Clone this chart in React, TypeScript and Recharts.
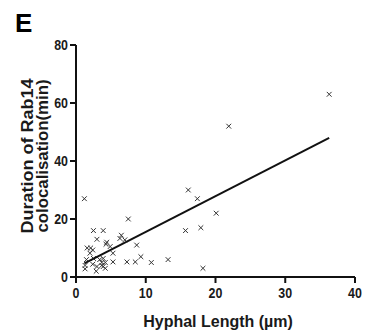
import {
  ScatterChart,
  Scatter,
  XAxis,
  YAxis,
  Label,
} from "recharts";

// Hyphal length (µm) vs duration of Rab14 colocalisation (min)
const hyphalLength = [
  1.2, 7.5, 2.5, 3.9, 15.7, 3.0, 6.5, 6.3, 7.0, 4.4, 4.3, 4.9, 8.7, 1.6, 2.1,
  2.4, 2.0, 5.3, 9.3, 1.5, 2.5, 3.4, 3.9, 5.3, 7.3, 8.5, 10.8, 13.2, 1.3, 1.3,
  2.4, 3.0, 2.9, 3.7, 3.9, 4.2, 3.7, 4.2, 16.1, 17.4, 20.1, 17.9, 18.2, 21.9,
  36.3,
];
const duration = [
  27, 20, 16, 16, 16, 13, 14.4, 13.3, 12.8, 12, 11.3, 10.5, 11, 10, 10, 9.3,
  8.2, 8.2, 7, 6, 6.4, 6, 6.4, 5.2, 5.2, 5.2, 5, 6, 4, 2.8, 4.4, 3.6, 2, 4,
  3.6, 3, 5, 5, 30, 27, 22, 17, 3, 52, 63,
];

// regression line end points
const fitX = [1.2, 36.3];
const fitY = [4.7, 48];

const xTicks = [0, 10, 20, 30, 40];
const yTicks = [0, 20, 40, 60, 80];

const points = hyphalLength.map((x, i) => ({ x, y: duration[i] }));
const fitLine = fitX.map((x, i) => ({ x, y: fitY[i] }));

const FONT = "'Liberation Sans', Arial, sans-serif";
const INK = "#1a1a1a";

const Cross = (props: any) => {
  const { cx, cy } = props;
  const r = 2.4;
  return (
    <g stroke="#333" strokeWidth={1}>
      <line x1={cx - r} y1={cy - r} x2={cx + r} y2={cy + r} />
      <line x1={cx - r} y1={cy + r} x2={cx + r} y2={cy - r} />
    </g>
  );
};

// narrow bold digits like the original figure
const tickText = (label: string, x: number, y: number, anchor: string) => (
  <text
    x={x}
    y={y}
    textAnchor={anchor}
    fontFamily={FONT}
    fontWeight="bold"
    fontSize={15}
    fill={INK}
    textLength={label.length * 6.9}
    lengthAdjust="spacingAndGlyphs"
  >
    {label}
  </text>
);

const XTick = (props: any) => {
  const { x, y, payload } = props;
  return tickText(String(payload.value), x, y + 13, "middle");
};

const YTick = (props: any) => {
  const { x, y, payload } = props;
  return tickText(String(payload.value), x, y + 5, "end");
};

const YLabel = () => (
  <g transform="translate(0,156) rotate(-90)">
    <text
      x={0}
      y={32.5}
      textAnchor="middle"
      fontFamily={FONT}
      fontWeight="bold"
      fontSize={16}
      fill={INK}
      textLength={155}
      lengthAdjust="spacingAndGlyphs"
    >
      Duration of Rab14
    </text>
    <text
      x={0}
      y={47.5}
      textAnchor="middle"
      fontFamily={FONT}
      fontWeight="bold"
      fontSize={16}
      fill={INK}
      textLength={153}
      lengthAdjust="spacingAndGlyphs"
    >
      colocalisation(min)
    </text>
  </g>
);

const XLabel = () => (
  <text
    x={218}
    y={327}
    textAnchor="middle"
    fontFamily={FONT}
    fontWeight="bold"
    fontSize={16}
    fill={INK}
  >
    Hyphal Length (µm)
  </text>
);

export default function App() {
  return (
    <div style={{ position: "absolute", left: 0, top: 0, width: 375, height: 335, background: "#fff" }}>
      <ScatterChart
        width={375}
        height={335}
        margin={{ top: 45, right: 20, bottom: 0, left: 0 }}
      >
        <XAxis
          type="number"
          dataKey="x"
          domain={[0, 40]}
          ticks={xTicks}
          height={58}
          tickSize={6}
          tickMargin={2}
          axisLine={{ stroke: "#111", strokeWidth: 2 }}
          tickLine={{ stroke: "#111", strokeWidth: 2 }}
          tick={<XTick />}
        >
          <Label content={<XLabel />} />
        </XAxis>
        <YAxis
          type="number"
          dataKey="y"
          domain={[0, 80]}
          ticks={yTicks}
          width={76}
          tickSize={6}
          tickMargin={2}
          axisLine={{ stroke: "#111", strokeWidth: 2 }}
          tickLine={{ stroke: "#111", strokeWidth: 2 }}
          tick={<YTick />}
        >
          <Label content={<YLabel />} />
        </YAxis>
        <Scatter
          data={points}
          shape={<Cross />}
          isAnimationActive={false}
        />
        <Scatter
          data={fitLine}
          line={{ stroke: "#111", strokeWidth: 2 }}
          shape={() => <g />}
          isAnimationActive={false}
        />
      </ScatterChart>
      <svg
        width={375}
        height={335}
        style={{ position: "absolute", left: 0, top: 0, pointerEvents: "none" }}
      >
        <text x={15} y={32} fontFamily={FONT} fontWeight="bold" fontSize={26} fill="#000">
          E
        </text>
      </svg>
    </div>
  );
}
